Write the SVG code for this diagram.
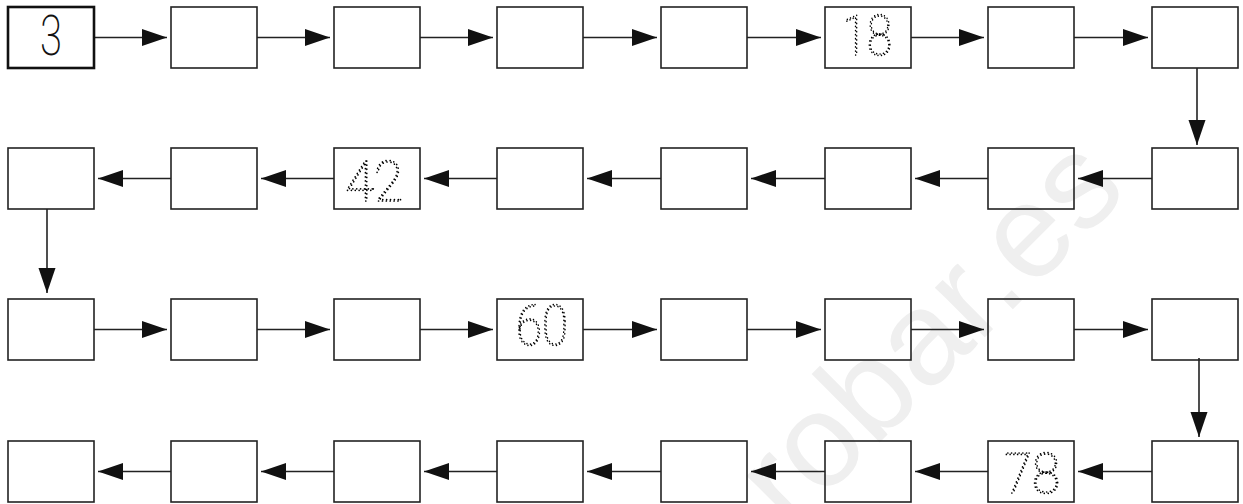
<svg xmlns="http://www.w3.org/2000/svg" width="1243" height="504" viewBox="0 0 1243 504">
<style>
.box{fill:none;stroke:#222;stroke-width:1.6}
.first{fill:none;stroke:#111;stroke-width:2.6}
.conn line{stroke:#222;stroke-width:1.6;marker-end:url(#ah)}
.num{font-family:Roboto,"DejaVu Sans",sans-serif;font-size:56px;text-anchor:start}
.solid{font-weight:200;fill:#111}
.dot{font-weight:100;fill:none;stroke:#000;stroke-width:1.7;stroke-dasharray:0.1 4;stroke-linecap:round}
.wm{font-family:"Liberation Sans",Arial,sans-serif;font-size:133px;fill:#efefef}
</style>
<defs>
<marker id="ah" markerUnits="userSpaceOnUse" markerWidth="26" markerHeight="18" refX="25" refY="8.5" orient="auto">
<path d="M0,0 L25,8.5 L0,17 z" fill="#111"/>
</marker>
<clipPath id="page"><rect width="1243" height="504"/></clipPath>
</defs>
<rect width="1243" height="504" fill="#fff"/>
<g clip-path="url(#page)"><text class="wm" transform="translate(790,532) rotate(-45)">robar.es</text></g>
<g class="conn">
<line x1="94" y1="37.5" x2="167" y2="37.5"/>
<line x1="257" y1="37.5" x2="330" y2="37.5"/>
<line x1="420" y1="37.5" x2="493" y2="37.5"/>
<line x1="583" y1="37.5" x2="657" y2="37.5"/>
<line x1="747" y1="37.5" x2="821" y2="37.5"/>
<line x1="911" y1="37.5" x2="984" y2="37.5"/>
<line x1="1074" y1="37.5" x2="1148" y2="37.5"/>
<line x1="1197" y1="68" x2="1197" y2="145"/>
<line x1="1152" y1="178.5" x2="1078" y2="178.5"/>
<line x1="988" y1="178.5" x2="915" y2="178.5"/>
<line x1="825" y1="178.5" x2="751" y2="178.5"/>
<line x1="661" y1="178.5" x2="587" y2="178.5"/>
<line x1="497" y1="178.5" x2="424" y2="178.5"/>
<line x1="334" y1="178.5" x2="261" y2="178.5"/>
<line x1="171" y1="178.5" x2="98" y2="178.5"/>
<line x1="47" y1="209" x2="47" y2="293"/>
<line x1="94" y1="329.5" x2="167" y2="329.5"/>
<line x1="257" y1="329.5" x2="330" y2="329.5"/>
<line x1="420" y1="329.5" x2="493" y2="329.5"/>
<line x1="583" y1="329.5" x2="657" y2="329.5"/>
<line x1="747" y1="329.5" x2="821" y2="329.5"/>
<line x1="911" y1="329.5" x2="984" y2="329.5"/>
<line x1="1074" y1="329.5" x2="1148" y2="329.5"/>
<line x1="1199" y1="358" x2="1199" y2="437"/>
<line x1="1152" y1="471.5" x2="1078" y2="471.5"/>
<line x1="988" y1="471.5" x2="915" y2="471.5"/>
<line x1="825" y1="471.5" x2="751" y2="471.5"/>
<line x1="661" y1="471.5" x2="587" y2="471.5"/>
<line x1="497" y1="471.5" x2="424" y2="471.5"/>
<line x1="334" y1="471.5" x2="261" y2="471.5"/>
<line x1="171" y1="471.5" x2="98" y2="471.5"/>
</g>
<g id="n1"><rect class="first" x="8" y="7" width="86" height="61"/><text class="num solid" x="40" y="55" textLength="22" lengthAdjust="spacingAndGlyphs">3</text></g>
<g id="n2"><rect class="box" x="171" y="7" width="86" height="61"/></g>
<g id="n3"><rect class="box" x="334" y="7" width="86" height="61"/></g>
<g id="n4"><rect class="box" x="497" y="7" width="86" height="61"/></g>
<g id="n5"><rect class="box" x="661" y="7" width="86" height="61"/></g>
<g id="n6"><rect class="box" x="825" y="7" width="86" height="61"/><text class="num dot" x="842" y="55" textLength="50" lengthAdjust="spacingAndGlyphs">18</text></g>
<g id="n7"><rect class="box" x="988" y="7" width="86" height="61"/></g>
<g id="n8"><rect class="box" x="1152" y="7" width="86" height="61"/></g>
<g id="n9"><rect class="box" x="1152" y="148" width="86" height="61"/></g>
<g id="n10"><rect class="box" x="988" y="148" width="86" height="61"/></g>
<g id="n11"><rect class="box" x="825" y="148" width="86" height="61"/></g>
<g id="n12"><rect class="box" x="661" y="148" width="86" height="61"/></g>
<g id="n13"><rect class="box" x="497" y="148" width="86" height="61"/></g>
<g id="n14"><rect class="box" x="334" y="148" width="86" height="61"/><text class="num dot" x="345" y="201" textLength="58" lengthAdjust="spacingAndGlyphs">42</text></g>
<g id="n15"><rect class="box" x="171" y="148" width="86" height="61"/></g>
<g id="n16"><rect class="box" x="8" y="148" width="86" height="61"/></g>
<g id="n17"><rect class="box" x="8" y="299" width="86" height="61"/></g>
<g id="n18"><rect class="box" x="171" y="299" width="86" height="61"/></g>
<g id="n19"><rect class="box" x="334" y="299" width="86" height="61"/></g>
<g id="n20"><rect class="box" x="497" y="299" width="86" height="61"/><text class="num dot" x="516" y="345" textLength="52" lengthAdjust="spacingAndGlyphs">60</text></g>
<g id="n21"><rect class="box" x="661" y="299" width="86" height="61"/></g>
<g id="n22"><rect class="box" x="825" y="299" width="86" height="61"/></g>
<g id="n23"><rect class="box" x="988" y="299" width="86" height="61"/></g>
<g id="n24"><rect class="box" x="1152" y="299" width="86" height="61"/></g>
<g id="n25"><rect class="box" x="1152" y="441" width="86" height="61"/></g>
<g id="n26"><rect class="box" x="988" y="441" width="86" height="61"/><text class="num dot" x="1004" y="493" textLength="56" lengthAdjust="spacingAndGlyphs">78</text></g>
<g id="n27"><rect class="box" x="825" y="441" width="86" height="61"/></g>
<g id="n28"><rect class="box" x="661" y="441" width="86" height="61"/></g>
<g id="n29"><rect class="box" x="497" y="441" width="86" height="61"/></g>
<g id="n30"><rect class="box" x="334" y="441" width="86" height="61"/></g>
<g id="n31"><rect class="box" x="171" y="441" width="86" height="61"/></g>
<g id="n32"><rect class="box" x="8" y="441" width="86" height="61"/></g>
</svg>
